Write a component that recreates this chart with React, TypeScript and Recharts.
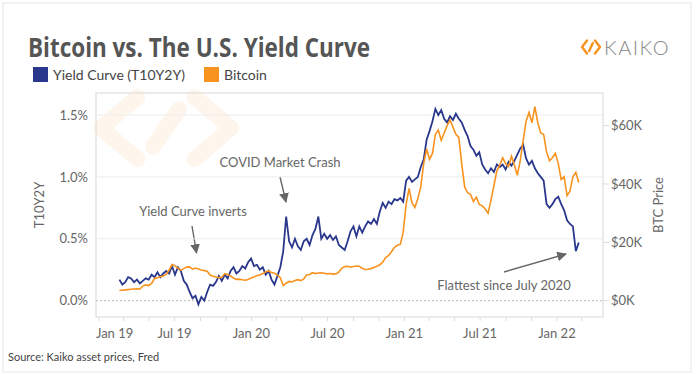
import React from "react"
import { LineChart, Line, XAxis, YAxis, ReferenceLine } from "recharts"

// weekly readings, first point 2019-02-19
const firstDate = "2019-02-19"

// T10Y2Y spread, %
const yieldCurve = [
  0.17, 0.13, 0.15, 0.19, 0.18, 0.15, 0.17, 0.14, 0.16, 0.18,
  0.17, 0.21, 0.19, 0.23, 0.19, 0.22, 0.24, 0.22, 0.28, 0.21,
  0.27, 0.24, 0.16, 0.13, 0.07, 0.02, 0.04, -0.03, 0.03, 0.0,
  0.07, 0.13, 0.12, 0.15, 0.2, 0.16, 0.21, 0.18, 0.24, 0.27,
  0.22, 0.24, 0.28, 0.26, 0.31, 0.34, 0.28, 0.29, 0.25, 0.27,
  0.21, 0.24, 0.17, 0.13, 0.2, 0.27, 0.4, 0.68, 0.48, 0.43,
  0.5, 0.44, 0.41, 0.48, 0.5, 0.45, 0.53, 0.58, 0.68, 0.5,
  0.54, 0.5, 0.53, 0.49, 0.52, 0.45, 0.43, 0.41, 0.48, 0.56,
  0.6, 0.52, 0.6, 0.55, 0.6, 0.64, 0.62, 0.66, 0.62, 0.72,
  0.79, 0.75, 0.8, 0.78, 0.82, 0.81, 0.83, 0.8, 0.97, 1.0,
  0.96, 0.98, 1.0, 1.08, 1.14, 1.3, 1.37, 1.45, 1.55, 1.5,
  1.54, 1.47, 1.44, 1.49, 1.46, 1.51, 1.47, 1.44, 1.38, 1.33,
  1.25, 1.22, 1.17, 1.2, 1.1, 1.06, 1.03, 1.07, 1.04, 1.1,
  1.08, 1.1, 1.06, 1.12, 1.09, 1.13, 1.18, 1.23, 1.26, 1.15,
  1.1, 1.13, 1.07, 1.03, 1.0, 0.97, 0.78, 0.75, 0.78, 0.82,
  0.84, 0.78, 0.73, 0.65, 0.62, 0.6, 0.4, 0.47,
]

// BTC price, $K
const bitcoin = [
  3.5, 3.6, 3.7, 3.8, 3.9, 4.0, 4.1, 4.0, 5.0, 5.4,
  5.2, 5.9, 7.6, 7.9, 8.2, 8.5, 9.0, 10.5, 12.4, 12.0,
  11.2, 10.4, 11.0, 11.5, 11.6, 10.8, 11.2, 10.9, 10.5, 10.3,
  10.1, 8.8, 8.4, 8.1, 7.9, 8.0, 9.3, 9.0, 8.5, 7.8,
  7.3, 7.4, 7.2, 7.0, 7.3, 7.8, 8.1, 8.6, 8.8, 9.3,
  9.9, 10.2, 9.7, 9.4, 8.8, 7.9, 5.2, 6.0, 6.6, 6.4,
  6.9, 7.2, 6.9, 7.5, 8.8, 9.0, 9.6, 9.3, 9.5, 9.6,
  9.4, 9.2, 9.3, 9.1, 9.2, 9.8, 11.1, 11.7, 11.8, 11.5,
  11.7, 11.9, 11.8, 11.1, 10.7, 10.8, 11.0, 11.4, 11.8, 12.3,
  13.2, 14.8, 15.5, 16.8, 18.3, 19.0, 19.3, 23.5, 33.0, 38.5,
  33.5, 32.0, 35.0, 39.0, 47.0, 52.0, 48.5, 50.5, 57.0, 58.5,
  55.0, 57.5, 60.0, 62.0, 59.5, 57.0, 56.0, 47.0, 39.0, 37.0,
  36.5, 34.0, 35.5, 33.0, 32.5, 31.5, 30.0, 34.5, 39.5, 44.5,
  46.5, 49.0, 47.0, 46.0, 49.5, 46.5, 43.0, 48.0, 55.0, 61.5,
  64.5, 61.0, 66.5, 61.0, 57.5, 57.0, 51.0, 48.0, 49.0, 50.5,
  47.0, 41.5, 42.5, 36.0, 37.5, 42.5, 44.0, 40.5,
]

const leftTicks = [0, 0.5, 1, 1.5]
const rightTicks = [0, 20, 40, 60]
const tickMonths = [
  "2019-01", "2019-03", "2019-05", "2019-07", "2019-09", "2019-11",
  "2020-01", "2020-03", "2020-05", "2020-07", "2020-09", "2020-11",
  "2021-01", "2021-03", "2021-05", "2021-07", "2021-09", "2021-11",
  "2022-01", "2022-03",
]
const tickLabels = [
  "Jan 19", "", "", "Jul 19", "", "",
  "Jan 20", "", "", "Jul 20", "", "",
  "Jan 21", "", "", "Jul 21", "", "",
  "Jan 22", "",
]

const BLUE = "#29378c"
const ORANGE = "#f7931e"
const FONT = "Lato, 'Open Sans', sans-serif"

const DAY = 86400000
const origin = Date.parse("2019-01-01")
const toDay = (s: string) => Math.round((Date.parse(s) - origin) / DAY)
const firstDay = toDay(firstDate)

const data = yieldCurve.map((v, i) => ({
  day: firstDay + i * 7,
  yc: v,
  btc: bitcoin[i],
}))

const xTicks = tickMonths.map((m) => toDay(m + "-01"))
const labelByDay: Record<number, string> = {}
xTicks.forEach((d, i) => (labelByDay[d] = tickLabels[i]))

const XTick = (props: any) => {
  const { x, y, payload } = props
  const label = labelByDay[payload.value]
  if (!label) return null
  const first = payload.value === 0
  return (
    <text
      x={first ? x - 3 : x}
      y={y}
      dy="0.71em"
      textAnchor={first ? "start" : "middle"}
      fill="#666"
      fontSize={13}
      fontFamily={FONT}
    >
      {label}
    </text>
  )
}

const Logo = ({ cx, cy, w, h, sw, color }: any) => (
  <g fill="none" stroke={color} strokeWidth={sw} strokeLinecap="round" strokeLinejoin="round">
    <polyline points={`${cx - w * 0.22},${cy - h / 2} ${cx - w / 2},${cy} ${cx - w * 0.22},${cy + h / 2}`} />
    <polyline points={`${cx + w * 0.22},${cy - h / 2} ${cx + w / 2},${cy} ${cx + w * 0.22},${cy + h / 2}`} />
    <line x1={cx - w * 0.1} y1={cy + h * 0.3} x2={cx + w * 0.1} y2={cy - h * 0.3} />
  </g>
)

const Background = () => (
  <svg width={700} height={374} style={{ position: "absolute", left: 0, top: 0 }}>
    <rect x={0} y={0} width={700} height={374} fill="#fff" />
    <rect x={3} y={3} width={688} height={369} fill="none" stroke="#e6e6e6" />
    <Logo cx={166} cy={128} w={130} h={62} sw={16} color="#fef6ec" />
    <rect x={96} y={93} width={507} height={224} fill="none" stroke="#d8d8d8" />

    <text x={28} y={57} fontSize={26} fontWeight={700} fill="#555" textLength={342}
      lengthAdjust="spacingAndGlyphs" fontFamily="'Liberation Sans Narrow', 'Open Sans', sans-serif">
      Bitcoin vs. The U.S. Yield Curve
    </text>
    <Logo cx={591} cy={47} w={18} h={13} sw={2.4} color={ORANGE} />
    <text x={604} y={55} fontSize={20} fontWeight={300} fill="#888" letterSpacing={1.5} fontFamily={FONT}>
      KAIKO
    </text>

    <rect x={33} y={67} width={15} height={15} fill={BLUE} />
    <text x={53} y={79.5} fontSize={14} fill="#444" fontFamily={FONT}>Yield Curve (T10Y2Y)</text>
    <rect x={204} y={67} width={15} height={15} fill={ORANGE} />
    <text x={224} y={79.5} fontSize={14} fill="#444" fontFamily={FONT}>Bitcoin</text>

    <text transform="translate(44,205) rotate(-90)" textAnchor="middle" fontSize={13} fill="#666" fontFamily={FONT}>
      T10Y2Y
    </text>
    <text transform="translate(663,205) rotate(-90)" textAnchor="middle" fontSize={13} fill="#666" fontFamily={FONT}>
      BTC Price
    </text>

    <defs>
      <marker id="head" viewBox="0 0 10 10" refX="9" refY="5" markerWidth="7" markerHeight="7" orient="auto">
        <path d="M0,0 L10,5 L0,10 z" fill="#666" />
      </marker>
    </defs>
    <g fontSize={13} fill="#666" fontFamily={FONT} textAnchor="middle">
      <text x={193} y={216}>Yield Curve inverts</text>
      <text x={280} y={167}>COVID Market Crash</text>
      <text x={504} y={290}>Flattest since July 2020</text>
    </g>
    <g stroke="#666" strokeWidth={1.4} markerEnd="url(#head)">
      <line x1={192} y1={226} x2={196.5} y2={253} />
      <line x1={280} y1={177} x2={286} y2={202} />
      <line x1={504} y1={272} x2={566} y2={254} />
    </g>

    <text x={8} y={361} fontSize={11} fill="#444" fontFamily={FONT}>Source: Kaiko asset prices, Fred</text>
  </svg>
)

export default function App() {
  return (
    <div style={{ position: "absolute", left: 0, top: 0, width: 700, height: 374 }}>
      <Background />
      <div style={{ position: "absolute", left: 0, top: 0 }}>
        <LineChart width={700} height={374} data={data} margin={{ top: 93, right: 37, bottom: 27, left: 36 }}>
          <XAxis
            dataKey="day"
            type="number"
            domain={[-7, 1206]}
            ticks={xTicks}
            interval={0}
            height={30}
            axisLine={false}
            tickSize={4}
            tickMargin={8}
            tickLine={{ stroke: "#ddd" }}
            tick={(p: any) => <XTick {...p} />}
          />
          <YAxis
            yAxisId="left"
            width={60}
            domain={[-0.132, 1.678]}
            ticks={leftTicks}
            allowDataOverflow
            axisLine={false}
            tickLine={false}
            tick={{ fill: "#666", fontSize: 13, fontFamily: FONT }}
            tickFormatter={(v: number) => v.toFixed(1) + "%"}
          />
          <YAxis
            yAxisId="right"
            orientation="right"
            width={60}
            domain={[-5.59, 71.2]}
            ticks={rightTicks}
            allowDataOverflow
            axisLine={false}
            tickLine={{ stroke: "#ddd" }}
            tick={{ fill: "#666", fontSize: 13, fontFamily: FONT }}
            tickFormatter={(v: number) => `$${v}K`}
          />
          <ReferenceLine yAxisId="left" y={0.5} stroke="#ececec" />
          <ReferenceLine yAxisId="left" y={1} stroke="#ececec" />
          <ReferenceLine yAxisId="left" y={1.5} stroke="#ececec" />
          <ReferenceLine yAxisId="left" y={0} stroke="#bbb" strokeDasharray="2 2" />
          <Line yAxisId="left" dataKey="yc" stroke={BLUE} strokeWidth={1.8} dot={false} isAnimationActive={false} />
          <Line yAxisId="right" dataKey="btc" stroke={ORANGE} strokeWidth={1.6} dot={false} isAnimationActive={false} />
        </LineChart>
      </div>
    </div>
  )
}
